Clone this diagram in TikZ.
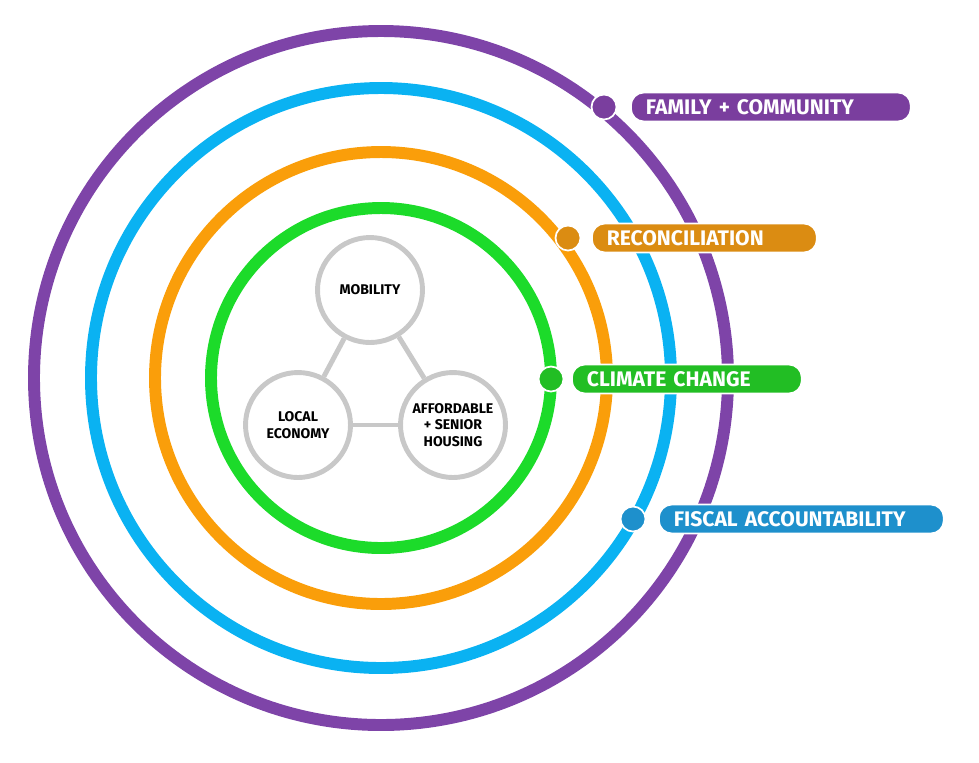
\documentclass[tikz,border=0pt]{standalone}
\usepackage{fontspec}
\setmainfont{Fira Sans}
\usetikzlibrary{positioning}

\definecolor{ringpurple}{HTML}{7E44A8}
\definecolor{ringblue}{HTML}{0AB2F2}
\definecolor{ringorange}{HTML}{FA9E0A}
\definecolor{ringgreen}{HTML}{1CDB2A}
\definecolor{labpurple}{HTML}{7A3E9E}
\definecolor{labblue}{HTML}{1E90CC}
\definecolor{laborange}{HTML}{DB8C12}
\definecolor{labgreen}{HTML}{22BE24}
\definecolor{topicgray}{HTML}{C8C8C8}

\tikzset{
  ring/.style={draw, line width=6.8pt},
  topic/.style={circle, draw=topicgray, line width=2.8pt, fill=white,
                minimum size=2.1cm, align=center, inner sep=0pt,
                font=\bfseries\footnotesize},
  tag/.style={rectangle, rounded corners=0.26cm, draw=white, line width=1pt,
              minimum height=0.58cm, anchor=west, text=white,
              font=\bfseries\large, inner sep=0.1cm},
  dot/.style={circle, draw=white, line width=1pt, minimum size=0.5cm, inner sep=0pt}
}

\begin{document}
\begin{tikzpicture}[x=0.02cm, y=-0.02cm]
\useasboundingbox (0,0) rectangle (979,762);

%%%%%%%%%%%%%%%%%%%%%%%%%%%%%%
% rings
\coordinate (c) at (381,378);
\draw[ring, ringpurple] (c) circle (347);
\draw[ring, ringblue] (c) circle (290);
\draw[ring, ringorange] (c) circle (226);
\draw[ring, ringgreen] (c) circle (170);

%%%%%%%%%%%%%%%%%%%%%%%%%%%%%%
% topics
\node (mob) at (370,290) [topic] {MOBILITY};
\node (eco) at (298,425) [topic] {LOCAL\\ECONOMY};
\node (hou) at (453,425) [topic] {AFFORDABLE\\+ SENIOR\\HOUSING};

\draw[topicgray, line width=2.8pt] (mob) -- (eco);
\draw[topicgray, line width=2.8pt] (mob) -- (hou);
\draw[topicgray, line width=2.8pt] (eco) -- (hou);

%%%%%%%%%%%%%%%%%%%%%%%%%%%%%%
% labels
\node (fam) at (630,107) [tag, fill=labpurple, text width=5.4cm] {\hspace*{0.2cm}FAMILY + COMMUNITY};
\node (rec) at (591,238) [tag, fill=laborange, text width=4.3cm] {\hspace*{0.2cm}RECONCILIATION};
\node (cli) at (571,379) [tag, fill=labgreen, text width=4.4cm] {\hspace*{0.2cm}CLIMATE CHANGE};
\node (fis) at (658,519) [tag, fill=labblue, text width=5.5cm] {\hspace*{0.2cm}FISCAL ACCOUNTABILITY};

\node (fam_d) at (604,107) [dot, fill=labpurple] {};
\node (rec_d) at (568,238) [dot, fill=laborange] {};
\node (cli_d) at (551,379) [dot, fill=labgreen] {};
\node (fis_d) at (633,519) [dot, fill=labblue] {};

\end{tikzpicture}
\end{document}
